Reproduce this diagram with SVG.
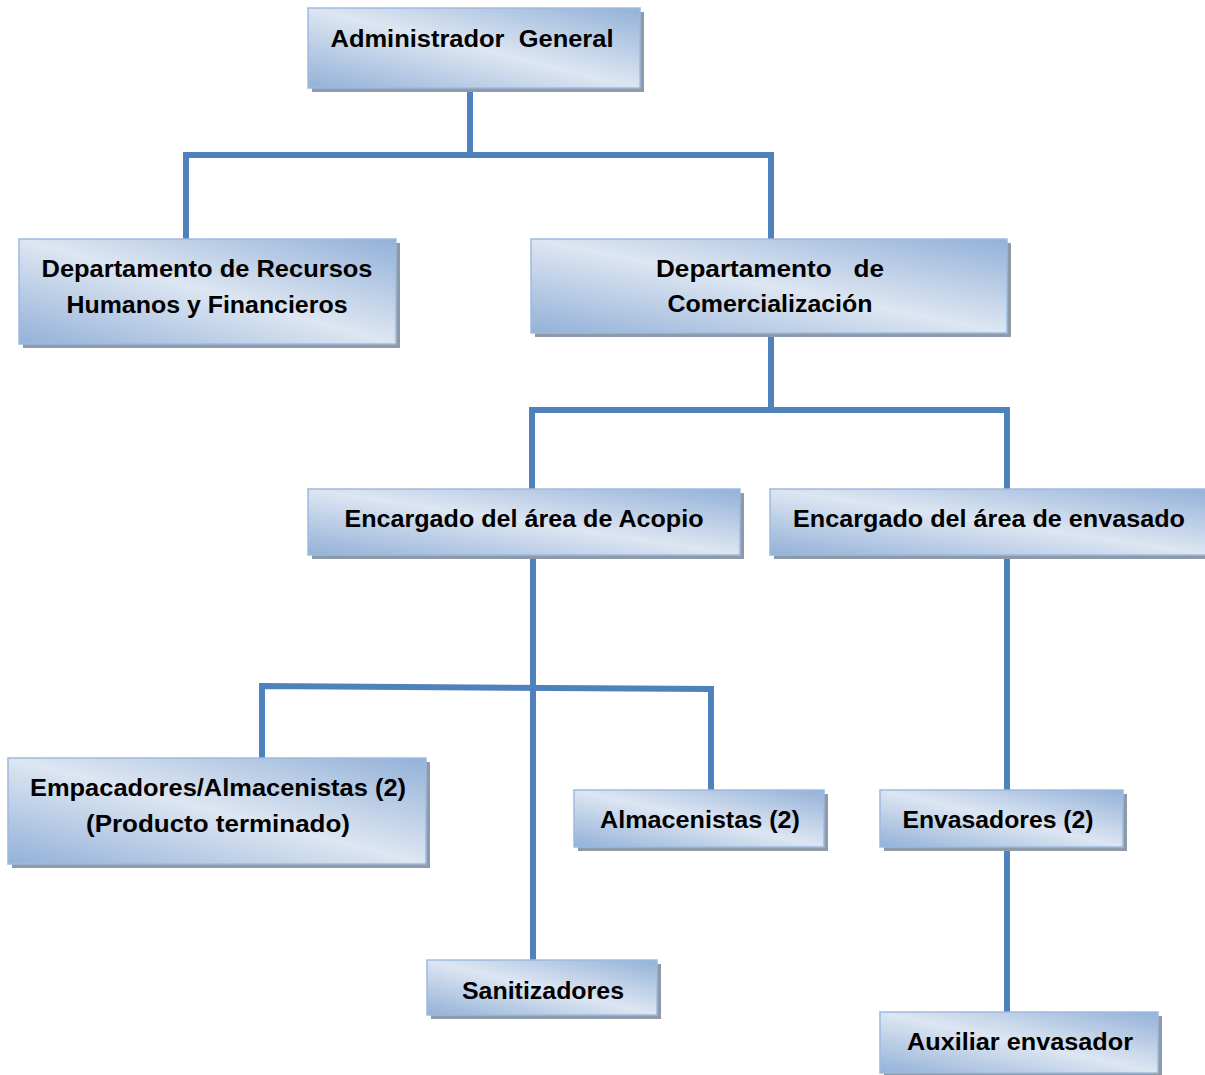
<svg xmlns="http://www.w3.org/2000/svg" width="1205" height="1075" viewBox="0 0 1205 1075">
<defs>
<linearGradient id="g" x1="0" y1="1" x2="1" y2="0">
<stop offset="0" stop-color="#93b1d8"/>
<stop offset="0.5" stop-color="#dde6f2"/>
<stop offset="1" stop-color="#93b1d8"/>
</linearGradient>
</defs>
<style>
.sh{fill:#8e9aa8}
.bx{fill:url(#g);stroke:#9dbbe0;stroke-width:1.5}
.t{font-family:"Liberation Sans",Arial,sans-serif;font-weight:bold;font-size:23px;fill:#000;text-anchor:middle;white-space:pre}
.c{fill:none;stroke:#4f81bd;stroke-width:6;stroke-linejoin:miter}
</style>
<rect width="1205" height="1075" fill="#fff"/>
<g id="connectors">
<path class="c" d="M470 88 V155 M186 239 V155 H771 V239"/>
<path class="c" d="M771 333 V410 M532 489 V410 H1007 V489"/>
<path class="c" d="M533 555 V960"/>
<path class="c" d="M262 758 V686 L711 689 V790"/>
<path class="c" d="M1007 555 V790 M1007 847 V1012"/>
</g>
<g id="n1">
<rect class="sh" x="312" y="12" width="332" height="80"/>
<rect class="bx" x="308" y="8" width="332" height="80"/>
<text class="t" x="472" y="47" textLength="283" lengthAdjust="spacingAndGlyphs">Administrador  General</text>
</g>
<g id="n2">
<rect class="sh" x="23" y="243" width="377" height="105"/>
<rect class="bx" x="19" y="239" width="377" height="105"/>
<text class="t" x="207" y="277" textLength="331" lengthAdjust="spacingAndGlyphs">Departamento de Recursos</text>
<text class="t" x="207" y="313" textLength="281" lengthAdjust="spacingAndGlyphs">Humanos y Financieros</text>
</g>
<g id="n3">
<rect class="sh" x="535" y="243" width="476" height="94"/>
<rect class="bx" x="531" y="239" width="476" height="94"/>
<text class="t" x="770" y="277" textLength="228" lengthAdjust="spacingAndGlyphs">Departamento   de</text>
<text class="t" x="770" y="312" textLength="205" lengthAdjust="spacingAndGlyphs">Comercialización</text>
</g>
<g id="n4">
<rect class="sh" x="312" y="493" width="432" height="66"/>
<rect class="bx" x="308" y="489" width="432" height="66"/>
<text class="t" x="524" y="527" textLength="359" lengthAdjust="spacingAndGlyphs">Encargado del área de Acopio</text>
</g>
<g id="n5">
<rect class="sh" x="774" y="493" width="440" height="66"/>
<rect class="bx" x="770" y="489" width="440" height="66"/>
<text class="t" x="989" y="527" textLength="392" lengthAdjust="spacingAndGlyphs">Encargado del área de envasado</text>
</g>
<g id="n6">
<rect class="sh" x="12" y="762" width="418" height="106"/>
<rect class="bx" x="8" y="758" width="418" height="106"/>
<text class="t" x="218" y="796" textLength="376" lengthAdjust="spacingAndGlyphs">Empacadores/Almacenistas (2)</text>
<text class="t" x="218" y="832" textLength="264" lengthAdjust="spacingAndGlyphs">(Producto terminado)</text>
</g>
<g id="n7">
<rect class="sh" x="578" y="794" width="250" height="57"/>
<rect class="bx" x="574" y="790" width="250" height="57"/>
<text class="t" x="700" y="828" textLength="200" lengthAdjust="spacingAndGlyphs">Almacenistas (2)</text>
</g>
<g id="n8">
<rect class="sh" x="884" y="794" width="243" height="57"/>
<rect class="bx" x="880" y="790" width="243" height="57"/>
<text class="t" x="998" y="828" textLength="191" lengthAdjust="spacingAndGlyphs">Envasadores (2)</text>
</g>
<g id="n9">
<rect class="sh" x="431" y="964" width="230" height="55"/>
<rect class="bx" x="427" y="960" width="230" height="55"/>
<text class="t" x="543" y="999" textLength="162" lengthAdjust="spacingAndGlyphs">Sanitizadores</text>
</g>
<g id="n10">
<rect class="sh" x="884" y="1016" width="278" height="61"/>
<rect class="bx" x="880" y="1012" width="278" height="61"/>
<text class="t" x="1020" y="1050" textLength="226" lengthAdjust="spacingAndGlyphs">Auxiliar envasador</text>
</g>
</svg>
